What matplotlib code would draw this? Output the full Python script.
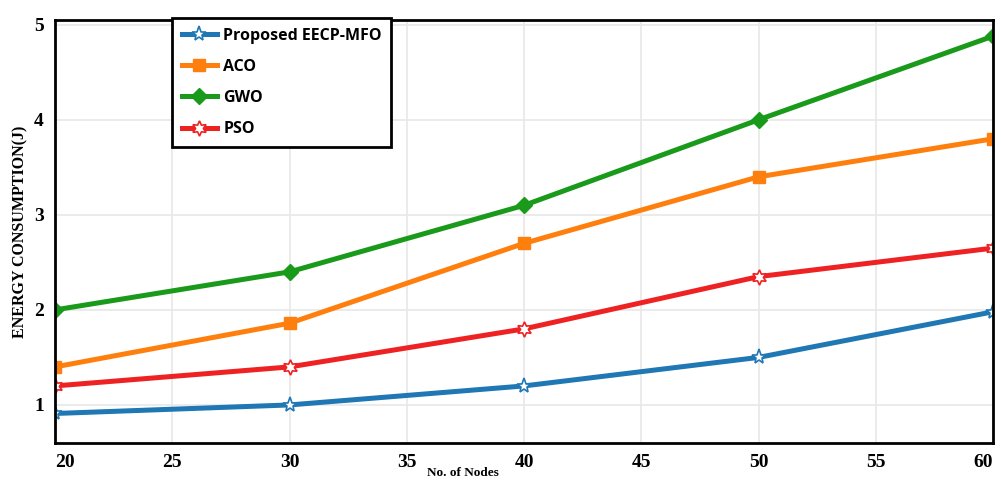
import matplotlib
matplotlib.use("Agg")
import matplotlib.pyplot as plt

nodes = [20, 30, 40, 50, 60]
proposed = [0.91, 1.0, 1.2, 1.5, 1.98]
aco = [1.4, 1.86, 2.7, 3.4, 3.8]
gwo = [2.0, 2.4, 3.1, 4.0, 4.88]
pso = [1.2, 1.4, 1.8, 2.35, 2.65]
series_names = ["Proposed EECP-MFO", "ACO", "GWO", "PSO"]
xticks = [20, 25, 30, 35, 40, 45, 50, 55, 60]
yticks = [1, 2, 3, 4, 5]

fig = plt.figure(figsize=(10.01, 4.82), dpi=100)
ax = fig.add_axes([0.055, 0.081, 0.937, 0.8775])

lw = 3.6
ax.plot(nodes, proposed, color="#1f77b4", lw=lw, marker="*", ms=11, mfc="white",
        mec="#1f77b4", mew=1.2, label=series_names[0])
ax.plot(nodes, aco, color="#ff7f0e", lw=lw, marker="s", ms=8, mfc="#ff7f0e",
        mec="#ff7f0e", label=series_names[1])
ax.plot(nodes, gwo, color="#1a9a1a", lw=lw, marker="D", ms=8, mfc="#1a9a1a",
        mec="#1a9a1a", label=series_names[2])
ax.plot(nodes, pso, color="#ee2222", lw=lw, marker=(6, 1, 0), ms=11, mfc="white",
        mec="#ee2222", mew=1.2, label=series_names[3])

ax.set_xlim(20, 60)
ax.set_ylim(0.6, 5.05)
ax.set_xticks(xticks)
ax.set_yticks(yticks)
ax.tick_params(length=0, pad=8)
for lab in ax.get_xticklabels() + ax.get_yticklabels():
    lab.set_fontfamily("Liberation Serif")
    lab.set_fontweight("bold")
    lab.set_fontsize(14)
# nudge the last x label inward like the reference
ax.get_xticklabels()[-1].set_horizontalalignment("right")
ax.get_xticklabels()[0].set_horizontalalignment("left")
ax.grid(True, color="#e8e8e8", lw=1.2)
ax.set_axisbelow(True)
for sp in ax.spines.values():
    sp.set_color("black")
    sp.set_linewidth(2)

ax.set_ylabel("ENERGY CONSUMPTION(J)", family="Liberation Serif", weight="bold",
              fontsize=11.5, labelpad=4)
ax.text(0.435, -0.057, "No. of Nodes", transform=ax.transAxes, family="Liberation Serif",
        weight="bold", fontsize=9.5, ha="center", va="top")

leg = ax.legend(loc="upper left", bbox_to_anchor=(0.1247, 1.0047), borderaxespad=0,
                frameon=True, fancybox=False,
                handlelength=2.2, borderpad=0.6, labelspacing=0.95, handletextpad=0.4,
                prop={"family": "Open Sans", "weight": "bold", "size": 11.5})
leg.get_frame().set_edgecolor("black")
leg.get_frame().set_linewidth(2)
leg.get_frame().set_alpha(1)

fig.savefig("out.png", dpi=100)
